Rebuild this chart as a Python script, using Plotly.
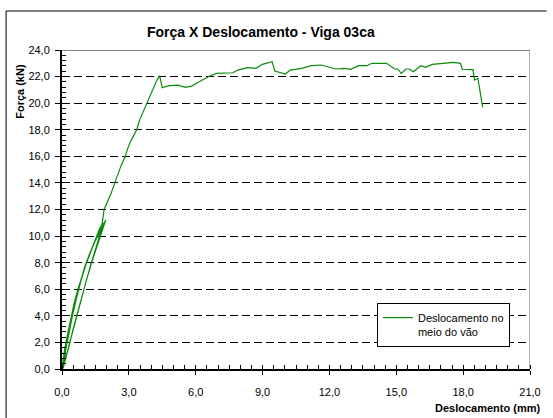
import plotly.graph_objects as go

# Force vs displacement readings (mm, kN): two load/unload cycles, then loading to failure
desloc = [
    0.00, 0.10, 0.25, 0.40, 0.55, 0.75, 0.95, 1.20, 1.45, 1.70, 1.96,
    1.82, 1.60, 1.35, 1.10, 0.88, 0.66, 0.46, 0.28, 0.12, 0.04,
    0.14, 0.30, 0.45, 0.62, 0.82, 1.02, 1.25, 1.50, 1.70, 1.85,
    1.74, 1.52, 1.28, 1.04, 0.80, 0.56, 0.34, 0.14, 0.05,
    0.16, 0.32, 0.48, 0.66, 0.86, 1.08, 1.30, 1.52, 1.72, 1.79,
    1.89, 2.05, 2.20, 2.37, 2.50, 2.65, 2.84, 2.95, 3.10, 3.35, 3.50, 3.65,
    3.79, 3.95, 4.10, 4.25, 4.38, 4.50, 4.75, 5.18, 5.55, 5.84, 6.14, 6.65,
    6.94, 7.67, 7.89, 8.33, 8.70, 8.99, 9.43, 9.55, 10.02, 10.24, 10.75,
    11.19, 11.63, 11.92, 12.29, 12.65, 12.95, 13.31, 13.68, 13.90, 14.56,
    14.93, 15.07, 15.22, 15.44, 15.58, 15.77, 16.10, 16.31, 16.61, 16.90,
    17.56, 17.88, 17.96, 18.44, 18.51, 18.66, 18.88,
]
forca = [
    0.00, 1.30, 2.60, 3.90, 5.00, 6.20, 7.30, 8.50, 9.50, 10.40, 11.20,
    10.50, 9.40, 8.10, 6.70, 5.30, 4.00, 2.80, 1.60, 0.60, 0.05,
    1.30, 2.80, 4.00, 5.30, 6.50, 7.70, 8.70, 9.80, 10.60, 11.00,
    10.30, 9.10, 7.80, 6.40, 4.90, 3.40, 1.90, 0.50, 0.05,
    1.40, 2.90, 4.10, 5.40, 6.70, 7.90, 8.90, 9.80, 10.60, 10.80,
    12.00, 12.60, 13.20, 14.00, 14.60, 15.30, 16.00, 16.60, 17.20, 18.00, 18.80, 19.40,
    20.00, 20.60, 21.20, 21.70, 22.06, 21.16, 21.30, 21.36, 21.19, 21.30, 21.60, 22.06,
    22.24, 22.29, 22.49, 22.67, 22.62, 22.92, 23.12, 22.42, 22.19, 22.49, 22.62,
    22.82, 22.87, 22.74, 22.57, 22.62, 22.55, 22.82, 22.82, 23.00, 23.00,
    22.57, 22.57, 22.24, 22.57, 22.57, 22.37, 22.82, 22.69, 22.92, 22.97,
    23.07, 23.00, 22.55, 22.52, 21.74, 21.87, 19.69,
]

x_ticks = [0, 3, 6, 9, 12, 15, 18, 21]
y_ticks = [0, 2, 4, 6, 8, 10, 12, 14, 16, 18, 20, 22, 24]

W, H = 553, 418
ML, MR, MT, MB = 62, 14, 50, 49
PW, PH = W - ML - MR, H - MT - MB


def px(xpix):
    return (xpix - ML) / PW


def py(ypix):
    return (H - MB - ypix) / PH


FONT = "Liberation Sans, Arial, sans-serif"

fig = go.Figure()
fig.add_trace(go.Scatter(
    x=desloc, y=forca, mode="lines",
    name="Deslocamento no<br>meio do vão",
    line=dict(color="#0a8a0a", width=1.2),
))

fig.update_layout(
    width=W, height=H,
    margin=dict(l=ML, r=MR, t=MT, b=MB),
    paper_bgcolor="white", plot_bgcolor="white",
    separators=",.",
    font=dict(family=FONT, size=11, color="black"),
    showlegend=True,
    legend=dict(
        x=px(383), y=py(303), xanchor="left", yanchor="top",
        bgcolor="white", bordercolor="black", borderwidth=1,
        font=dict(family=FONT, size=11, color="black"),
        itemwidth=30, valign="top",
        tracegroupgap=0,
    ),
    xaxis=dict(
        range=[0, 21], tickmode="array", tickvals=x_ticks,
        tickformat=".1f", showgrid=False, zeroline=False,
        showline=True, linecolor="black", linewidth=2,
        ticks="outside", ticklen=4, tickwidth=1, tickcolor="black",
        ticklabelstandoff=8,
        minor=dict(dtick=0.5, ticks="inside", ticklen=4, tickcolor="black", tickwidth=1, showgrid=False),
        tickfont=dict(size=11),
    ),
    yaxis=dict(
        range=[0, 24], tickmode="array", tickvals=y_ticks,
        tickformat=".1f", showgrid=True, gridcolor="black", gridwidth=1,
        griddash="8px,4px", zeroline=False,
        showline=True, linecolor="black", linewidth=2,
        ticks="outside", ticklen=5, tickwidth=1, tickcolor="black",
        ticklabelstandoff=3,
        minor=dict(dtick=0.4, ticks="inside", ticklen=4, tickcolor="black", tickwidth=1, showgrid=False),
        tickfont=dict(size=11),
    ),
)

# Gray top and right edges of the plotting area
fig.add_shape(type="line", xref="x", yref="y", x0=0, x1=21, y0=24, y1=24,
              line=dict(color="#808080", width=2))
fig.add_shape(type="line", xref="x", yref="y", x0=21, x1=21, y0=0, y1=24,
              line=dict(color="#808080", width=1.2))

# Outer chart frame (left and top edges)
fig.add_shape(type="line", xref="paper", yref="paper",
              x0=px(5), x1=px(5), y0=py(11), y1=py(420),
              line=dict(color="black", width=1))
fig.add_shape(type="line", xref="paper", yref="paper",
              x0=px(5), x1=px(556), y0=py(11), y1=py(11),
              line=dict(color="black", width=1))

fig.add_annotation(text="<b>Força X Deslocamento - Viga 03ca</b>",
                   xref="paper", yref="paper", x=px(265), y=py(32),
                   xanchor="center", yanchor="middle", showarrow=False,
                   font=dict(family=FONT, size=14, color="black"))
fig.add_annotation(text="<b>Força (kN)</b>",
                   xref="paper", yref="paper", x=px(19), y=py(91),
                   xanchor="center", yanchor="middle", textangle=-90, showarrow=False,
                   font=dict(family=FONT, size=11, color="black"))
fig.add_annotation(text="<b>Deslocamento (mm)</b>",
                   xref="paper", yref="paper", x=px(551), y=py(408),
                   xanchor="right", yanchor="middle", showarrow=False,
                   font=dict(family=FONT, size=11, color="black"))

fig.write_html("out.html")
